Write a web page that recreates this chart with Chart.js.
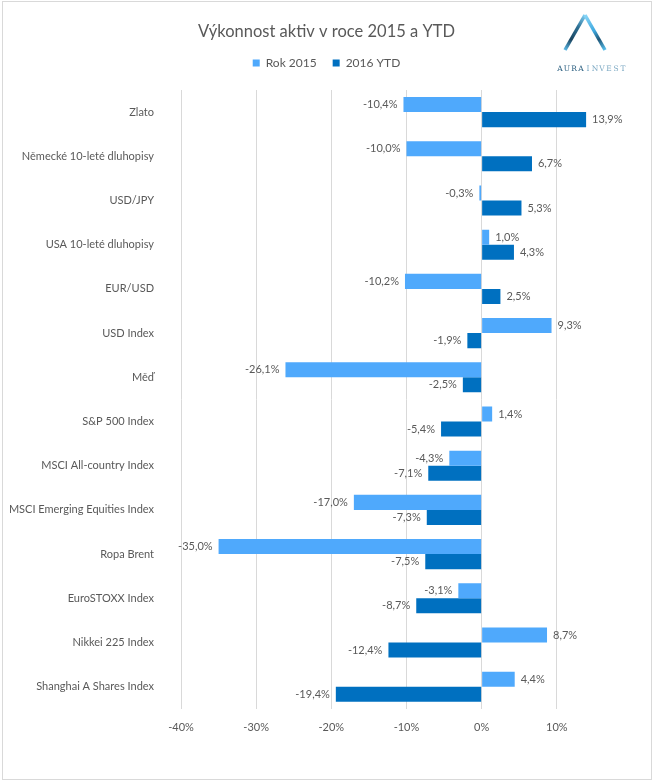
<!DOCTYPE html>
<html>
<head>
<meta charset="utf-8">
<script src="https://cdn.jsdelivr.net/npm/chart.js@4/dist/chart.umd.min.js"></script>
<style>
html,body{margin:0;padding:0;background:#fff;}
#wrap{position:relative;width:653px;height:781px;}
</style>
</head>
<body>
<div id="wrap"><canvas id="c" width="653" height="781"></canvas></div>
<script>
const categories = [
  "Zlato",
  "Německé 10-leté dluhopisy",
  "USD/JPY",
  "USA 10-leté dluhopisy",
  "EUR/USD",
  "USD Index",
  "Měď",
  "S&P 500 Index",
  "MSCI All-country Index",
  "MSCI Emerging Equities Index",
  "Ropa Brent",
  "EuroSTOXX Index",
  "Nikkei 225 Index",
  "Shanghai A Shares Index"
];
const rok2015 = [-10.4, -10.0, -0.3, 1.0, -10.2, 9.3, -26.1, 1.4, -4.3, -17.0, -35.0, -3.1, 8.7, 4.4];
const ytd2016 = [13.9, 6.7, 5.3, 4.3, 2.5, -1.9, -2.5, -5.4, -7.1, -7.3, -7.5, -8.7, -12.4, -19.4];
const seriesNames = ["Rok 2015", "2016 YTD"];
const xTickMin = -40, xTickMax = 10, xTickStep = 10;
const titleText = "Výkonnost aktiv v roce 2015 a YTD";

const FONT = "Lato, 'Open Sans', sans-serif";
const TXT = "#595959";

const bgBorder = {
  id: 'bgBorder',
  beforeDraw(chart) {
    const ctx = chart.ctx;
    ctx.save();
    ctx.fillStyle = '#fff';
    ctx.fillRect(0, 0, chart.width, chart.height);
    ctx.strokeStyle = '#d9d9d9';
    ctx.lineWidth = 1;
    ctx.strokeRect(2.5, 1.5, chart.width - 4, chart.height - 3);
    ctx.restore();
  }
};

const logo = {
  id: 'logo',
  afterDraw(chart) {
    const ctx = chart.ctx;
    ctx.save();
    const ax = 585, ay = 15, lx = 565, rx = 605, by = 50;
    let g = ctx.createLinearGradient(ax, ay, lx, by);
    g.addColorStop(0, '#7fd0f5');
    g.addColorStop(0.35, '#2d6f93');
    g.addColorStop(0.7, '#1a4560');
    g.addColorStop(1, '#5ab8e6');
    ctx.strokeStyle = g;
    ctx.lineWidth = 3.5;
    ctx.lineCap = 'butt';
    ctx.beginPath(); ctx.moveTo(ax, ay); ctx.lineTo(lx, by); ctx.stroke();
    g = ctx.createLinearGradient(ax, ay, rx, by);
    g.addColorStop(0, '#8ad6f7');
    g.addColorStop(0.45, '#3fa9e0');
    g.addColorStop(0.7, '#1f5778');
    g.addColorStop(1, '#59c2f0');
    ctx.strokeStyle = g;
    ctx.beginPath(); ctx.moveTo(ax, ay); ctx.lineTo(rx, by); ctx.stroke();
    const letters = "AURAINVEST".split('');
    ctx.font = "7.5px 'DejaVu Serif', serif";
    ctx.textBaseline = 'middle';
    ctx.textAlign = 'center';
    letters.forEach((ch, i) => {
      ctx.fillStyle = i < 4 ? '#2f6283' : '#7eaac4';
      ctx.fillText(ch, 560 + i * 7, 69);
    });
    ctx.restore();
  }
};

const dataLabels = {
  id: 'dataLabels',
  afterDatasetsDraw(chart) {
    const ctx = chart.ctx;
    ctx.save();
    ctx.font = "11px " + FONT;
    ctx.fillStyle = TXT;
    ctx.textBaseline = 'middle';
    chart.data.datasets.forEach((ds, di) => {
      const meta = chart.getDatasetMeta(di);
      meta.data.forEach((el, i) => {
        const v = ds.data[i];
        const txt = v.toFixed(1).replace('.', ',') + '%';
        if (v >= 0) {
          ctx.textAlign = 'left';
          ctx.fillText(txt, el.x + 6, el.y);
        } else {
          ctx.textAlign = 'right';
          ctx.fillText(txt, el.x - 6, el.y);
        }
      });
    });
    ctx.restore();
  }
};

new Chart(document.getElementById('c'), {
  type: 'bar',
  data: {
    labels: categories,
    datasets: [
      { label: seriesNames[0], data: rok2015, backgroundColor: '#4fa9fc', categoryPercentage: 0.68, barPercentage: 1.0 },
      { label: seriesNames[1], data: ytd2016, backgroundColor: '#0070c0', categoryPercentage: 0.68, barPercentage: 1.0 }
    ]
  },
  options: {
    indexAxis: 'y',
    responsive: false,
    animation: false,
    devicePixelRatio: 1,
    layout: { padding: { left: 0, right: 0, top: 0, bottom: 35 } },
    plugins: {
      title: {
        display: true,
        text: titleText,
        color: TXT,
        font: { family: FONT, size: 16.5, weight: 'normal', lineHeight: '18px' },
        padding: { top: 23, bottom: 0 }
      },
      legend: {
        display: true,
        position: 'top',
        labels: {
          color: TXT,
          font: { family: FONT, size: 12 },
          boxWidth: 7,
          boxHeight: 7,
          padding: 16
        }
      },
      tooltip: { enabled: false }
    },
    scales: {
      x: {
        type: 'linear',
        min: xTickMin,
        max: 22.8,
        ticks: {
          stepSize: xTickStep,
          color: TXT,
          font: { family: FONT, size: 11 },
          padding: 12,
          callback: v => v + '%'
        },
        afterBuildTicks: s => { s.ticks = s.ticks.filter(t => t.value >= xTickMin && t.value <= xTickMax); },
        grid: { color: '#d9d9d9', drawTicks: false },
        border: { display: false }
      },
      spacer: {
        type: 'linear',
        axis: 'x',
        position: 'top',
        display: true,
        ticks: { display: false },
        grid: { display: false, drawTicks: false },
        border: { display: false },
        afterFit: s => { s.height = 11; }
      },
      y: {
        ticks: {
          color: TXT,
          font: { family: FONT, size: 11 },
          padding: 27,
          autoSkip: false
        },
        afterFit: s => { s.width = 181; },
        grid: { display: false, drawTicks: false },
        border: { display: false }
      }
    }
  },
  plugins: [bgBorder, dataLabels, logo]
});
</script>
</body>
</html>
